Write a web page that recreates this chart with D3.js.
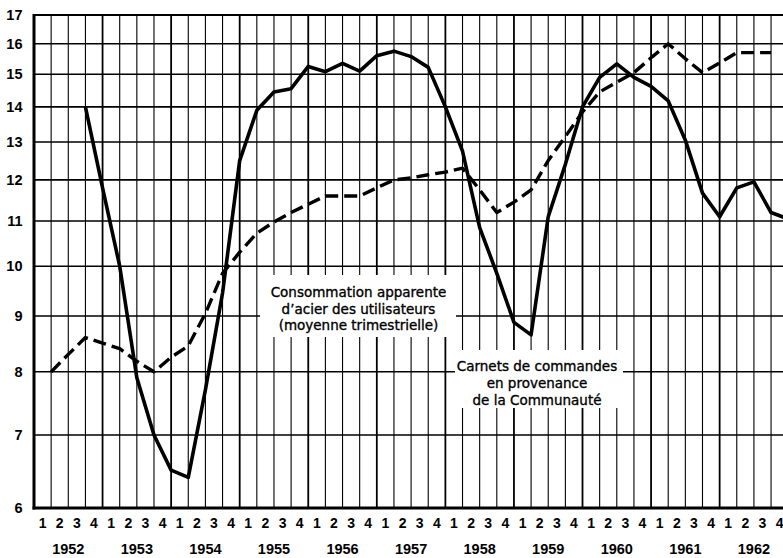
<!DOCTYPE html>
<html>
<head>
<meta charset="utf-8">
<script src="https://cdn.jsdelivr.net/npm/d3@7/dist/d3.min.js"></script>
<style>
  html, body { margin: 0; padding: 0; background: #fff; }
  svg { display: block; }
</style>
</head>
<body>
<svg id="chart" width="783" height="558"></svg>
<script>
// ---- data ----
const years = ["1952","1953","1954","1955","1956","1957","1958","1959","1960","1961","1962"];
const quarterLabels = ["1","2","3","4"];
const yTicks = [6,7,8,9,10,11,12,13,14,15,16,17];

// Carnets de commandes en provenance de la Communauté (solid), one value per quarter 1952 Q1 .. 1962 Q4
const carnets = [null, null, 14.0, 11.8,
  10.0, 7.9, 7.0, 6.5,
  6.4, 7.7, 9.45, 12.5,
  13.9, 14.45, 14.55, 15.25,
  15.08, 15.35, 15.1, 15.6,
  15.75, 15.57, 15.22, 14.0,
  12.75, 10.85, 9.85, 8.88,
  8.65, 11.1, 12.4, 14.0,
  14.9, 15.33, 14.9, 14.62,
  14.18, 13.05, 11.67, 11.1,
  11.8, 11.95, 11.2, 11.05];

// Consommation apparente d'acier des utilisateurs (dashed)
const consommation = [8.0, 8.3, 8.6, 8.5,
  8.4, 8.18, 8.0, 8.25,
  8.45, 9.05, 9.85, 10.3,
  10.72, 10.98, 11.2, 11.4,
  11.6, 11.6, 11.6, 11.8,
  12.0, 12.05, 12.13, 12.2,
  12.3, 11.75, 11.2, 11.45,
  11.75, 12.5, 13.15, 13.85,
  14.45, 14.75, 15.05, 15.53,
  16.0, 15.5, 15.05, 15.36,
  15.7, 15.7, 15.7, null];

const labelConso = ["Consommation apparente", "d\u2019acier des utilisateurs", "(moyenne trimestrielle)"];
const labelCarnets = ["Carnets de commandes", "en provenance", "de la Communauté"];

// ---- layout ----
const svg = d3.select("#chart");
const X0 = 34, X1 = 788.2, YT = 15, YB = 508;

const quarterKeys = [];
years.forEach(y => quarterLabels.forEach(q => quarterKeys.push(y + "-" + q)));

const xq = d3.scaleBand().domain(quarterKeys).range([X0, X1]).padding(0);
const xy = d3.scaleBand().domain(years).range([X0, X1]).padding(0);
const y = d3.scaleLog().domain([6, 17]).range([YB, YT]);
const xEnd = k => xq(k) + xq.bandwidth();

const g = svg.append("g");

// vertical grid lines (one at end of each quarter)
g.append("g").selectAll("line")
  .data(quarterKeys)
  .join("line")
  .attr("x1", d => xEnd(d)).attr("x2", d => xEnd(d))
  .attr("y1", YT).attr("y2", YB)
  .attr("stroke", "#000")
  .attr("stroke-width", d => d.endsWith("-4") ? 1.8 : 1.1);

// horizontal grid lines
g.append("g").selectAll("line")
  .data(yTicks.filter(v => v !== 6))
  .join("line")
  .attr("x1", X0).attr("x2", X1)
  .attr("y1", d => y(d)).attr("y2", d => y(d))
  .attr("stroke", "#000")
  .attr("stroke-width", d => d === 17 ? 2.2 : 1.6);

// axis frame lines
g.append("line").attr("x1", X0).attr("x2", X0).attr("y1", YT - 1).attr("y2", YB + 1.5)
  .attr("stroke", "#000").attr("stroke-width", 3);
g.append("line").attr("x1", X0 - 1.5).attr("x2", X1).attr("y1", YB).attr("y2", YB)
  .attr("stroke", "#000").attr("stroke-width", 3);

// white boxes behind annotations
g.append("rect").attr("x", 260).attr("y", 275).attr("width", 196).attr("height", 62).attr("fill", "#fff");
g.append("rect").attr("x", 455).attr("y", 350).attr("width", 168).attr("height", 58).attr("fill", "#fff");

// series
const lineGen = d3.line()
  .defined(d => d.v != null)
  .x(d => xEnd(d.k))
  .y(d => y(d.v));

const consoData = quarterKeys.map((k, i) => ({k, v: consommation[i]}));
const carnetsData = quarterKeys.map((k, i) => ({k, v: carnets[i]}));

g.append("path").datum(consoData)
  .attr("d", lineGen)
  .attr("fill", "none").attr("stroke", "#000")
  .attr("stroke-width", 3.4)
  .attr("stroke-dasharray", "13,6")
  .attr("stroke-linejoin", "round");

g.append("path").datum(carnetsData)
  .attr("d", lineGen)
  .attr("fill", "none").attr("stroke", "#000")
  .attr("stroke-width", 3.6)
  .attr("stroke-linejoin", "round");

// axes
const yAxis = g.append("g").attr("transform", `translate(${X0},0)`)
  .call(d3.axisLeft(y).tickValues(yTicks).tickFormat(d3.format("d")).tickSize(0).tickPadding(11.5));
yAxis.select(".domain").remove();
yAxis.selectAll("text")
  .attr("font-family", "'Liberation Sans', Arial, sans-serif")
  .attr("font-weight", "bold").attr("font-size", 14.5).attr("fill", "#000");

const qAxis = g.append("g").attr("transform", `translate(0,${YB})`)
  .call(d3.axisBottom(xq).tickFormat(k => k.split("-")[1]).tickSize(0));
qAxis.select(".domain").remove();
qAxis.selectAll("text")
  .attr("y", 15.5).attr("dy", "0.35em")
  .attr("font-family", "'Liberation Sans', Arial, sans-serif")
  .attr("font-weight", "bold").attr("font-size", 14).attr("fill", "#000");

const yrAxis = g.append("g").attr("transform", `translate(0,${YB})`)
  .call(d3.axisBottom(xy).tickSize(0));
yrAxis.select(".domain").remove();
yrAxis.selectAll("text")
  .attr("y", 40.5).attr("dy", "0.35em")
  .attr("font-family", "'Liberation Sans', Arial, sans-serif")
  .attr("font-weight", "bold").attr("font-size", 14.5).attr("fill", "#000");

// annotations
function block(lines, cx, cy0, dy) {
  g.append("g").selectAll("text")
    .data(lines)
    .join("text")
    .attr("x", cx)
    .attr("y", (d, i) => cy0 + i * dy)
    .attr("dy", "0.35em")
    .attr("text-anchor", "middle")
    .attr("font-family", "'DejaVu Sans', sans-serif")
    .attr("font-size", 13.5)
    .attr("fill", "#000")
    .attr("stroke", "#000")
    .attr("stroke-width", 0.35)
    .text(d => d);
}
block(labelConso, 358.5, 292.5, 16.3);
block(labelCarnets, 537, 366.5, 16.8);
</script>
</body>
</html>
